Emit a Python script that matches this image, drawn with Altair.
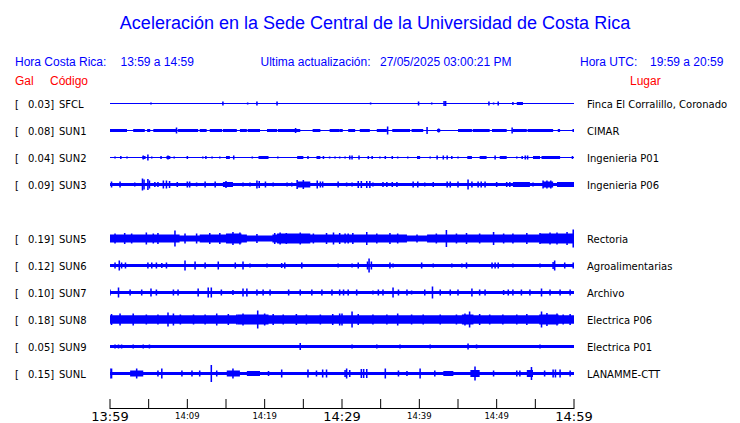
import altair as alt
import pandas as pd

# ---------------- data ----------------
stations = ["SFCL", "SUN1", "SUN2", "SUN3", "SUN5", "SUN6", "SUN7", "SUN8", "SUN9", "SUNL"]
gal = ["0.03", "0.08", "0.04", "0.09", "0.19", "0.12", "0.10", "0.18", "0.05", "0.15"]
places = ["Finca El Corralillo, Coronado", "CIMAR", "Ingenieria P01", "Ingenieria P06",
          "Rectoria", "Agroalimentarias", "Archivo", "Electrica P06", "Electrica P01", "LANAMME-CTT"]

# trace base thickness (display px)
base_px = [1.0, 1.2, 1.0, 3.0, 6.0, 3.0, 3.0, 6.0, 3.0, 3.0]

# bursts: [start min, end min, half amplitude px]
bursts = {
    "SFCL": [[52.6, 53.4, 1.5]],
    "SUN1": [[0, 2.2, 1.5], [3.0, 4.5, 1.5], [4.8, 5.2, 1.5], [5.6, 8.7, 1.5], [8.8, 11.4, 1.5],
             [11.6, 12.5, 1.5], [12.9, 14.5, 1.5], [14.6, 16.4, 1.5], [16.8, 17.7, 1.5],
             [17.8, 19.4, 1.5], [20.3, 21.6, 1.5], [21.7, 24.6, 1.5], [26.2, 27.2, 1.5],
             [28.4, 29.7, 1.5], [29.7, 30.1, 1.5], [30.8, 31.7, 1.5], [32.3, 33.6, 1.5],
             [34.5, 35.8, 1.5], [36.5, 38.8, 1.5], [39.0, 40.5, 1.5], [42.3, 42.7, 1.5],
             [45.0, 46.8, 1.5], [46.9, 49.1, 1.5], [49.4, 51.3, 1.5], [52.1, 53.9, 1.5],
             [54.0, 57.3, 1.5], [57.9, 58.2, 1.5], [59.8, 60, 1.5]],
    "SUN2": [[4.2, 4.6, 1.5], [7.3, 7.8, 1.5], [15.0, 15.5, 1.5], [19.2, 20.5, 1.5], [24.2, 25.0, 1.5],
             [26.7, 27.2, 1.5], [39.7, 40.1, 1.5], [46.2, 46.8, 1.5], [47.8, 48.7, 1.5], [50.4, 51.3, 1.5],
             [54.7, 55.6, 1.5], [55.8, 58.2, 1.5]],
    "SUN3": [[14.6, 15.9, 2.5], [24.2, 25.9, 3], [52.1, 54.3, 2.5], [56.0, 57.3, 3], [57.8, 60, 2.5]],
    "SUN5": [[0, 9, 4], [11.6, 17.7, 4], [21, 38.4, 4], [41, 60, 4],
             [15, 17, 5], [21.6, 25.9, 5], [55.6, 60, 5]],
    "SUN6": [],
    "SUN7": [],
    "SUN8": [[0, 60, 4.3], [16.5, 20.5, 5], [45.5, 47, 5], [55.5, 58, 5]],
    "SUN9": [],
    "SUNL": [[2.6, 4.3, 3], [15.1, 16.8, 3], [17.7, 19.4, 2.5], [43.1, 44.4, 2.5],
             [46.6, 47.8, 3.5], [53.9, 54.7, 3.5]],
}

# spikes: [minute, half amplitude px]
spikes = {
    "SFCL": [[5.3, 1], [14.6, 2], [17.8, 1], [19.0, 2], [21.6, 2], [33.7, 1], [39.9, 2], [41.6, 1],
             [43.2, 2.5], [43.4, 2.5], [49.0, 2], [49.6, 1], [50.2, 2], [52.1, 1.5]],
    "SUN1": [[8.6, 3], [24.0, 2.5], [35.9, 4], [41.0, 3.5], [52.0, 3], [42.5, 2]],
    "SUN2": [[0.65, 1], [1.4, 1.5], [2.2, 1], [4.3, 2], [4.9, 3], [5.4, 1], [6.6, 1.5], [7.5, 2],
             [8.3, 1], [10.0, 1.5], [12.0, 1], [12.4, 1.5], [13.2, 1], [14.2, 1], [16.0, 2],
             [18.4, 1], [21.7, 1], [25.6, 1.5], [27.6, 1.5], [28.4, 1], [29.1, 1], [29.7, 1],
             [30.4, 1], [31.0, 2], [31.3, 2], [32.2, 2], [33.4, 1.5], [33.9, 1.5], [34.9, 1],
             [35.6, 1.5], [36.5, 1.5], [37.2, 1], [38.5, 1], [41.4, 1], [42.3, 2], [43.1, 2],
             [43.6, 2], [44.2, 1.5], [45.0, 1], [49.8, 2], [52.6, 1], [53.3, 1.5], [53.7, 2],
             [54.0, 2], [59.8, 1.5]],
    "SUN3": [[0.2, 3], [1.3, 3], [3.2, 2], [4.2, 6], [4.4, 5], [4.9, 5.5], [5.1, 4], [5.8, 2.5],
             [6.2, 2.5], [6.9, 4], [7.3, 4], [7.7, 3.5], [8.7, 2.5], [10.0, 3], [10.3, 3],
             [11.2, 2], [12.3, 3], [13.6, 3], [15.0, 3.5], [17.2, 2], [18.1, 2], [19.0, 4],
             [19.3, 3.5], [20.1, 3], [21.1, 2], [22.9, 2], [23.5, 2], [24.2, 4.5], [25.0, 4.5],
             [26.8, 4], [27.2, 3], [27.5, 3], [29.5, 3], [30.6, 2], [31.3, 2], [32.1, 3.5],
             [32.5, 3.5], [33.2, 3.5], [33.6, 3.5], [34.0, 2], [35.3, 2.5], [35.8, 2.5],
             [36.5, 2.5], [37.1, 2.5], [39.2, 3], [39.8, 3], [40.7, 2], [41.8, 2.5], [43.6, 3],
             [44.0, 3], [45.0, 3], [46.3, 5], [46.8, 3], [47.6, 3], [48.0, 3], [48.5, 3],
             [50.0, 2.5], [51.3, 2.5], [51.7, 2.5], [54.7, 2], [56.0, 4], [56.5, 4], [57.0, 4]],
    "SUN5": [[0.65, 5], [1.9, 5.5], [2.8, 5], [4.7, 6], [5.6, 5], [6.2, 5.5], [8.4, 8], [9.7, 5],
             [11.2, 5], [12.9, 5.5], [14.2, 5.5], [15.9, 6.5], [16.8, 6], [19.0, 4.5],
             [21.3, 5.5], [22.0, 6], [22.8, 5.5], [24.6, 6], [26.3, 5], [28.0, 5.5], [28.9, 6],
             [29.7, 5.5], [30.8, 5], [30.4, 5], [31.4, 5.5], [33.2, 6.5], [34.5, 5], [36.2, 5.5],
             [37.2, 5], [39.7, 4], [42.2, 5], [43.5, 8.5], [44.8, 5], [46.1, 5.5], [47.8, 5],
             [49.6, 6.5], [50.9, 5], [52.1, 5], [53.9, 5.5], [55.6, 5.5], [56.9, 6], [57.8, 6],
             [59.1, 6.5], [59.9, 9]],
    "SUN6": [[0.65, 3], [1.2, 5], [1.5, 3], [2.0, 3], [4.9, 3], [5.4, 3], [6.0, 3], [6.7, 2.5],
             [7.3, 3], [9.7, 5], [11.0, 4], [12.3, 3], [14.0, 4], [16.2, 3], [17.2, 4], [18.1, 2],
             [20.3, 2], [22.2, 2.5], [22.6, 3], [24.8, 3], [29.5, 2], [31.3, 2], [32.1, 3],
             [33.3, 4], [33.5, 7], [33.8, 4], [36.2, 3], [36.6, 2], [40.3, 3], [41.8, 2],
             [44.2, 2], [45.5, 2], [46.1, 3], [49.4, 3], [49.8, 3], [50.2, 3], [52.1, 2],
             [55.6, 2], [57.3, 3.5], [57.5, 5], [58.8, 3], [59.9, 3]],
    "SUN7": [[0.0, 3], [1.1, 5], [2.6, 3], [4.1, 3], [5.3, 4], [6.0, 3], [8.2, 3], [8.8, 3],
             [11.4, 4], [12.7, 5], [13.1, 5], [14.4, 3], [15.9, 2.5], [17.2, 4], [17.7, 4],
             [19.0, 3], [19.8, 3], [20.7, 3], [23.1, 3], [24.6, 3], [26.1, 3], [27.4, 3],
             [28.7, 3], [29.7, 3], [30.8, 3], [30.2, 3], [31.9, 3], [34.0, 2], [34.7, 3],
             [35.3, 3], [36.6, 5], [37.3, 3], [38.4, 3], [39.0, 2], [40.7, 3], [41.7, 6],
             [42.7, 3], [44.0, 3], [45.0, 3], [46.8, 4], [47.8, 3], [48.5, 3], [50.9, 2.5],
             [51.5, 3], [52.1, 3], [53.2, 3], [54.3, 3], [55.8, 4], [56.9, 3], [58.2, 3],
             [59.5, 3]],
    "SUN8": [[0.2, 5.5], [1.3, 6], [3.0, 6], [4.7, 5], [6.2, 5], [7.5, 7], [8.2, 6], [9.1, 5],
             [10.8, 5], [12.3, 5], [13.8, 6], [15.3, 5.5], [16.4, 5], [17.2, 6], [19.1, 9],
             [20.0, 6], [21.1, 5.5], [22.4, 5], [24.1, 5.5], [25.4, 5], [27.2, 5], [28.8, 5.5],
             [29.7, 6], [30.0, 6], [31.3, 8], [32.1, 5.5], [34.0, 5], [35.8, 5], [37.2, 6],
             [39.0, 5], [40.5, 5], [42.7, 5], [44.8, 5], [45.9, 6], [46.5, 8], [47.8, 5.5],
             [49.1, 5], [50.8, 5], [52.6, 5], [53.9, 5.5], [55.8, 8], [56.5, 6.5], [57.8, 6],
             [58.6, 5], [59.5, 5.5]],
    "SUN9": [[0.65, 2], [1.1, 2], [1.5, 2], [3.0, 2], [4.3, 2], [5.1, 2], [24.6, 3.5], [31.3, 2],
             [34.5, 2], [37.5, 2], [41.4, 2], [46.3, 3], [47.4, 2], [55.6, 2]],
    "SUNL": [[0.0, 5], [0.2, 5], [3.45, 5], [6.2, 3], [6.7, 5], [9.3, 3], [10.6, 3], [11.6, 3],
             [13.1, 8.5], [13.8, 3], [15.9, 5], [20.5, 2.5], [22.2, 4], [25.6, 4], [26.7, 3],
             [27.5, 4], [28.0, 4], [30.6, 5], [30.4, 3.5], [31.0, 3.5], [32.5, 4.5], [32.8, 4.5],
             [33.2, 4.5], [35.6, 5], [37.3, 3], [38.4, 2.5], [40.1, 5], [42.0, 3], [47.2, 7],
             [49.6, 3], [52.6, 3], [53.0, 3], [54.5, 6.5], [56.2, 3], [57.3, 4], [57.6, 4],
             [58.2, 4], [59.5, 3]],
}

tick_minutes = [0, 5, 10, 15, 20, 25, 30, 35, 40, 45, 50, 55, 60]
big_labels = ["13:59", "14:29", "14:59"]
big_label_minutes = [0, 30, 60]
small_labels = ["14:09", "14:19", "14:39", "14:49"]
small_label_minutes = [10, 20, 40, 50]

title_text = "Aceleración en la Sede Central de la Universidad de Costa Rica"

# ---------------- layout ----------------
W, H = 724, 415
row_slots = [0, 1, 2, 3, 5, 6, 7, 8, 9, 10]   # SUN4 slot left empty
ROW0, ROW_STEP = 95.5, 27
SPIKE_W = 0.2
BLUE = "#0000ff"
RED = "#ff0000"

xs = alt.Scale(domain=[0, 60], range=[102, 566], nice=False, zero=False)
ys = alt.Scale(domain=[0, H], range=[0, H], nice=False, zero=False)

rects = []
lab = []
for i, code in enumerate(stations):
    c = ROW0 + ROW_STEP * row_slots[i]
    rects.append(dict(t0=0, t1=60, lo=c - base_px[i] / 2, hi=c + base_px[i] / 2))
    for a0, a1, h in bursts[code]:
        rects.append(dict(t0=a0, t1=a1, lo=c - h, hi=c + h))
    for t, h in spikes[code]:
        rects.append(dict(t0=max(0, t - SPIKE_W / 2), t1=min(60, t + SPIKE_W / 2), lo=c - h, hi=c + h))
    lab.append(dict(yc=c, gal=gal[i] + "]", code=code, place=places[i]))

rdf = pd.DataFrame(rects)
ldf = pd.DataFrame(lab)

traces = alt.Chart(rdf).mark_rect(color=BLUE).encode(
    x=alt.X("t0:Q", scale=xs, axis=None), x2="t1",
    y=alt.Y("lo:Q", scale=ys, axis=None), y2="hi")

LBL_FONT = "DejaVu Sans"
TXT_DY = 1.5


def label_layer(x, text_enc):
    return alt.Chart(ldf).mark_text(align="left", baseline="middle", font=LBL_FONT, fontSize=10,
                                    color="black", dy=TXT_DY).encode(
        x=alt.value(x), y=alt.Y("yc:Q", scale=ys), text=text_enc)


bracket = label_layer(7, alt.value("["))
galt = label_layer(20, "gal:N")
codet = label_layer(51, "code:N")
placet = label_layer(579, "place:N")

# axis
axis_line = alt.Chart(pd.DataFrame({"a": [0], "b": [60]})).mark_rule(color="black", strokeWidth=1).encode(
    x=alt.X("a:Q", scale=xs), x2="b", y=alt.value(400.5))
ticks = alt.Chart(pd.DataFrame({"m": tick_minutes})).mark_rule(color="black", strokeWidth=1).encode(
    x=alt.X("m:Q", scale=xs), y=alt.value(391), y2=alt.value(401))
big = alt.Chart(pd.DataFrame({"m": big_label_minutes, "l": big_labels})).mark_text(
    font=LBL_FONT, fontSize=13, align="center", baseline="alphabetic", color="black").encode(
    x=alt.X("m:Q", scale=xs), y=alt.value(413), text="l:N")
small = alt.Chart(pd.DataFrame({"m": small_label_minutes, "l": small_labels})).mark_text(
    font=LBL_FONT, fontSize=8.5, align="center", baseline="alphabetic", color="black").encode(
    x=alt.X("m:Q", scale=xs), y=alt.value(410.5), text="l:N")


# header texts
def txt(s, x, y, size, color, align="left", font="Liberation Sans"):
    return alt.Chart(pd.DataFrame({"s": [s]})).mark_text(
        align=align, baseline="alphabetic", font=font, fontSize=size, color=color).encode(
        x=alt.value(x), y=alt.value(y), text="s:N")


header = [
    txt(title_text, 367, 21, 18, BLUE, align="center"),
    txt("Hora Costa Rica:", 7, 57.5, 12, BLUE),
    txt("13:59 a 14:59", 112.5, 57.5, 12, BLUE),
    txt("Ultima actualización:", 252.5, 57.5, 12, BLUE),
    txt("27/05/2025 03:00:21 PM", 372, 57.5, 12, BLUE),
    txt("Hora UTC:", 572, 57.5, 12, BLUE),
    txt("19:59 a 20:59", 642, 57.5, 12, BLUE),
    txt("Gal", 7, 77, 12, RED),
    txt("Código", 42, 77, 12, RED),
    txt("Lugar", 622, 77, 12, RED),
]

chart = alt.layer(traces, bracket, galt, codet, placet, axis_line, ticks, big, small, *header).properties(
    width=W, height=H, autosize=alt.AutoSizeParams(type="none"), padding=0
).configure_view(stroke=None)

chart.save("out.html", embed_options={"renderer": "svg", "actions": False})
